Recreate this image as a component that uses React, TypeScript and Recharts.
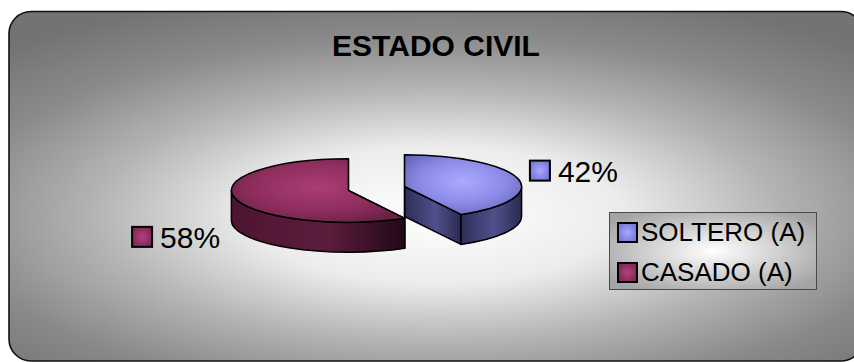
import React from "react";
import { PieChart, Pie, Cell, Legend } from "recharts";

const title = "ESTADO CIVIL";
const categories = ["SOLTERO (A)", "CASADO (A)"];
const values = [42, 58];

const data = categories.map((name, i) => ({ name, value: values[i] }));

const W = 854;
const H = 362;
const FONT = "'Liberation Sans', Arial, sans-serif";
const SLICE_COLORS = ["#9999ff", "#993366"];

// shading for each slice: top face, side walls, small marker squares
const SHADES = [
  { top: ["#aaaaff", "#8a8ae6", "#6565b8"], side: ["#2e2e58", "#50508c", "#2a2a50"], box: ["#a8a8ff", "#7272d4"] },
  { top: ["#ab3d74", "#8e2e5e", "#6a2045"], side: ["#4c1532", "#5c1d3d", "#220818"], box: ["#b2427c", "#7a2450"] },
];

// 3d look
const RY = 0.272;
const DEPTH = 30;
const EXPLODE = 29;

const rad = (a: number) => (a * Math.PI) / 180;

function ellPt(cx: number, cy: number, rx: number, a: number): [number, number] {
  return [cx + rx * Math.cos(rad(a)), cy - rx * RY * Math.sin(rad(a))];
}

function sliceCenter(cx: number, cy: number, mid: number): [number, number] {
  return [cx + EXPLODE * Math.cos(rad(mid)), cy - EXPLODE * RY * Math.sin(rad(mid))];
}

function Slice3D(props: any) {
  const { cx, cy, outerRadius, startAngle, endAngle, index } = props;
  const a1 = Math.min(startAngle, endAngle);
  const a2 = Math.max(startAngle, endAngle);
  const [ox, oy] = sliceCenter(cx, cy, (a1 + a2) / 2);
  const rx = outerRadius;
  const ry = rx * RY;
  const p = (a: number) => ellPt(ox, oy, rx, a);

  const [s1x, s1y] = p(a1);
  const [s2x, s2y] = p(a2);
  const large = a2 - a1 > 180 ? 1 : 0;
  const top = `M${ox},${oy} L${s1x},${s1y} A${rx},${ry} 0 ${large} 0 ${s2x},${s2y} Z`;

  const rims: string[] = [];
  for (let k = -2; k <= 1; k++) {
    const lo = Math.max(a1, 180 + 360 * k);
    const hi = Math.min(a2, 360 + 360 * k);
    if (hi - lo > 0.01) {
      const [x1, y1] = p(lo);
      const [x2, y2] = p(hi);
      const lg = hi - lo > 180 ? 1 : 0;
      rims.push(
        `M${x1},${y1} A${rx},${ry} 0 ${lg} 0 ${x2},${y2} L${x2},${y2 + DEPTH} A${rx},${ry} 0 ${lg} 1 ${x1},${y1 + DEPTH} Z`
      );
    }
  }

  const walls = [a1, a2].map((a) => {
    const [x, y] = p(a);
    return `M${ox},${oy} L${x},${y} L${x},${y + DEPTH} L${ox},${oy + DEPTH} Z`;
  });

  const line = { stroke: "#000", strokeWidth: 1.5, strokeLinejoin: "round" as const };

  return (
    <g>
      {walls.map((d, i) => (
        <path key={"w" + i} d={d} fill={`url(#side${index})`} {...line} />
      ))}
      {rims.map((d, i) => (
        <path key={"r" + i} d={d} fill={`url(#side${index})`} {...line} />
      ))}
      <path d={top} fill={`url(#top${index})`} {...line} />
    </g>
  );
}

function renderLabel(props: any) {
  const { cx, cy, outerRadius, startAngle, endAngle, percent, index } = props;
  const mid = (startAngle + endAngle) / 2;
  const [ox, oy] = sliceCenter(cx, cy, mid);
  const [px, py] = ellPt(ox, oy, outerRadius, mid);
  const right = Math.cos(rad(mid)) >= 0;
  const fs = 30;
  const tw = fs * 2;
  const bx = right ? px + 12 : px - 15 - tw - 28;
  const by = right ? py - 18 : py + 28.5;
  return (
    <g key={"lbl" + index}>
      <rect x={bx} y={by} width={20} height={20} fill={`url(#box${index})`} stroke="#000" strokeWidth={2} />
      <text x={bx + 28} y={by + 21} fontSize={fs} fontFamily={FONT} fill="#000">
        {`${Math.round(percent * 100)}%`}
      </text>
    </g>
  );
}

function renderLegend(props: any) {
  const payload = [...(props.payload || [])].sort(
    (a: any, b: any) => categories.indexOf(a.value) - categories.indexOf(b.value)
  );
  return (
    <svg width={208} height={78} style={{ display: "block" }}>
      <rect x={0.5} y={0.5} width={207} height={77} fill="url(#legendBg)" stroke="#4a4a4a" strokeWidth={1} />
      {payload.map((entry: any, i: number) => {
        const ci = categories.indexOf(entry.value);
        return (
          <g key={entry.value}>
            <rect x={9} y={11 + i * 40} width={19} height={19} fill={`url(#box${ci})`} stroke="#000" strokeWidth={2} />
            <text x={32} y={29 + i * 40} fontSize={26} fontFamily={FONT} fill="#000">
              {entry.value}
            </text>
          </g>
        );
      })}
    </svg>
  );
}

// frame: x 9..863, y 11..361
function Backdrop() {
  const L = 9, T = 11.5, R = 863, B = 361;
  return (
    <svg width={W} height={H} style={{ position: "absolute", left: 0, top: 0 }}>
      <defs>
        {SHADES.map((s, i) => (
          <React.Fragment key={i}>
            <radialGradient id={`top${i}`} cx="50%" cy="45%" r="62%">
              <stop offset="0%" stopColor={s.top[0]} />
              <stop offset="60%" stopColor={s.top[1]} />
              <stop offset="100%" stopColor={s.top[2]} />
            </radialGradient>
            <linearGradient id={`side${i}`} x1="0" y1="0" x2="1" y2="0">
              <stop offset="0%" stopColor={s.side[0]} />
              <stop offset="55%" stopColor={s.side[1]} />
              <stop offset="100%" stopColor={s.side[2]} />
            </linearGradient>
            <radialGradient id={`box${i}`} cx="50%" cy="50%" r="60%">
              <stop offset="0%" stopColor={s.box[0]} />
              <stop offset="100%" stopColor={s.box[1]} />
            </radialGradient>
          </React.Fragment>
        ))}
        <radialGradient id="legendBg" cx="50%" cy="50%" r="62%">
          <stop offset="0%" stopColor="#ffffff" />
          <stop offset="100%" stopColor="#a4a4a4" />
        </radialGradient>
        <radialGradient
          id="frameBg"
          gradientUnits="userSpaceOnUse"
          cx="0"
          cy="0"
          r="1"
          gradientTransform="translate(436 215) scale(620 230)"
        >
          <stop offset="0%" stopColor="#ffffff" />
          <stop offset="30%" stopColor="#ececec" />
          <stop offset="55%" stopColor="#b4b4b4" />
          <stop offset="78%" stopColor="#8a8a8a" />
          <stop offset="100%" stopColor="#737373" />
        </radialGradient>
      </defs>
      <rect x={L} y={T} width={R - L} height={B - T} rx={22} ry={22} fill="url(#frameBg)" stroke="#111" strokeWidth={1.6} />
      <text x={436} y={56} textAnchor="middle" fontSize={30} fontWeight="bold" fontFamily={FONT} fill="#000">
        {title}
      </text>
    </svg>
  );
}

export default function App() {
  return (
    <div style={{ position: "absolute", left: 0, top: 0, width: W, height: H }}>
      <Backdrop />
      <div style={{ position: "absolute", left: 0, top: 0 }}>
        <PieChart width={W} height={H} margin={{ top: 0, right: 0, bottom: 0, left: 0 }}>
          <Pie
            data={data}
            dataKey="value"
            nameKey="name"
            cx={376.5}
            cy={188.5}
            outerRadius={117}
            startAngle={90}
            endAngle={-270}
            stroke="none"
            shape={Slice3D}
            label={renderLabel}
            labelLine={false}
            isAnimationActive={false}
          >
            {data.map((_, i) => (
              <Cell key={i} fill={SLICE_COLORS[i]} />
            ))}
          </Pie>
          <Legend
            layout="vertical"
            align="right"
            verticalAlign="middle"
            content={renderLegend}
            wrapperStyle={{ left: 609, top: 212, right: "auto", bottom: "auto", width: 208, height: 78 }}
          />
        </PieChart>
      </div>
    </div>
  );
}
